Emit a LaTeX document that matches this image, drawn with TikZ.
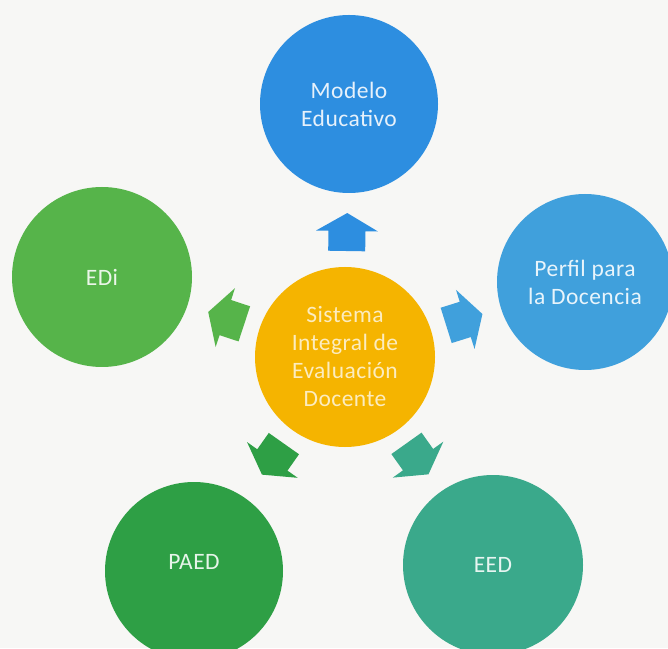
\documentclass[tikz,border=0pt]{standalone}
\usepackage{fontspec}
\setmainfont{Carlito}[LetterSpace=2]
\usetikzlibrary{calc}
\definecolor{bgc}{HTML}{F7F7F5}
\definecolor{cCenter}{HTML}{F5B400}
\definecolor{cTop}{HTML}{2D8EE0}
\definecolor{cPerfil}{HTML}{40A0DC}
\definecolor{cEDi}{HTML}{56B44A}
\definecolor{cPAED}{HTML}{2E9F45}
\definecolor{cEED}{HTML}{3AA98B}
\tikzset{
  bubble/.style={circle, minimum size=180pt, inner sep=0pt, align=center,
    fill=#1, text=white!88!#1, font=\fontsize{23.5}{28}\selectfont},
}
\newcommand\blockarrow[3]{%
  \begin{scope}[shift={($(c)!125pt!(#1)$)}, rotate=#2]
    \fill[#3] (-19,-18.5) -- (1,-18.5) -- (1,-31) -- (19,0) -- (1,31) -- (1,18.5) -- (-19,18.5) -- cycle;
  \end{scope}}
\begin{document}
\begin{tikzpicture}[x=1pt,y=1pt]
\fill[bgc] (0,0) rectangle (668,648);
\useasboundingbox (0,0) rectangle (668,648);
\node[bubble=cCenter, text=white!75!cCenter] (c) at (345,291) {Sistema\\Integral de\\Evaluación\\Docente};
\node[bubble=cTop, minimum size=178pt] (m) at (349,544) {Modelo\\Educativo};
\node[bubble=cEDi] (e) at (102,371) {EDi};
\node[bubble=cPerfil, minimum size=176pt] (p) at (585,366) {Perfil para\\la Docencia};
\node[bubble=cPAED, minimum size=178pt] (a) at (194,77) {};
\node[font=\fontsize{23.5}{28}\selectfont, text=white!88!cPAED] (at) at (194,86) {PAED};
\node[bubble=cEED] (d) at (493,83) {EED};
\blockarrow{m}{89.1}{cTop}
\blockarrow{e}{161.8}{cEDi}
\blockarrow{p}{17.4}{cPerfil}
\blockarrow{a}{-125.2}{cPAED}
\blockarrow{d}{-54.6}{cEED}
\end{tikzpicture}
\end{document}
